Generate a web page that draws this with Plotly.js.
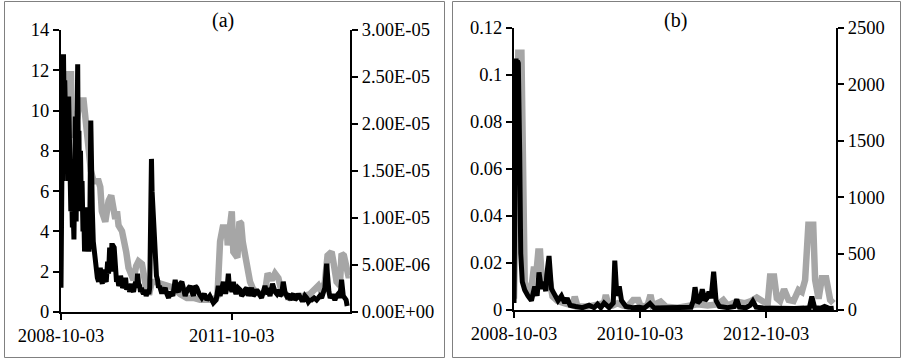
<!DOCTYPE html>
<html>
<head>
<meta charset="utf-8">
<script src="https://cdn.plot.ly/plotly-3.0.1.min.js"></script>
<style>html,body{margin:0;padding:0;background:#fff;}#chart{width:902px;height:359px;}</style>
</head>
<body>
<div id="chart"></div>
<script>
// ---------- Panel (a) ----------
const aBlackDates = ['2008-10-03','2008-10-05','2008-10-08','2008-10-11','2008-10-14','2008-10-19','2008-10-23','2008-10-27','2008-10-31','2008-11-04','2008-11-08','2008-11-12','2008-11-16','2008-11-21','2008-11-26','2008-11-30','2008-12-05','2008-12-10','2008-12-15','2008-12-20','2008-12-25','2008-12-30','2009-01-03','2009-01-08','2009-01-12','2009-01-18','2009-01-22','2009-01-26','2009-01-31','2009-02-05','2009-02-10','2009-02-15','2009-02-21','2009-02-26','2009-03-03','2009-03-09','2009-03-14','2009-03-19','2009-03-25','2009-03-31','2009-04-06','2009-04-12','2009-04-17','2009-04-22','2009-04-28','2009-05-04','2009-05-10','2009-05-17','2009-05-24','2009-06-01','2009-06-06','2009-06-12','2009-06-18','2009-06-25','2009-07-01','2009-07-07','2009-07-13','2009-07-20','2009-07-29','2009-08-04','2009-08-11','2009-08-19','2009-08-25','2009-09-01','2009-09-09','2009-09-18','2009-09-24','2009-10-01','2009-10-08','2009-10-14','2009-10-20','2009-10-26','2009-11-02','2009-11-08','2009-11-14','2009-11-21','2009-11-28','2009-12-04','2009-12-10','2009-12-17','2009-12-23','2009-12-29','2010-01-04','2010-01-11','2010-01-18','2010-01-24','2010-01-31','2010-02-06','2010-02-12','2010-02-19','2010-02-25','2010-03-03','2010-03-09','2010-03-16','2010-03-24','2010-04-02','2010-04-10','2010-04-19','2010-04-25','2010-04-30','2010-05-06','2010-05-10','2010-05-15','2010-05-24','2010-06-01','2010-06-07','2010-06-14','2010-06-20','2010-06-27','2010-07-08','2010-07-22','2010-08-02','2010-08-13','2010-08-24','2010-09-03','2010-09-20','2010-10-05','2010-10-15','2010-10-26','2010-11-06','2010-11-17','2010-11-27','2010-12-08','2010-12-22','2011-01-09','2011-01-20','2011-01-30','2011-02-10','2011-02-21','2011-03-08','2011-03-25','2011-04-10','2011-04-26','2011-05-15','2011-06-07','2011-06-25','2011-07-09','2011-07-20','2011-08-01','2011-08-10','2011-08-19','2011-08-27','2011-09-04','2011-09-11','2011-09-18','2011-09-26','2011-10-04','2011-10-13','2011-10-21','2011-10-30','2011-11-12','2011-11-25','2011-12-05','2011-12-16','2011-12-27','2012-01-07','2012-01-17','2012-01-28','2012-02-07','2012-02-18','2012-02-29','2012-03-11','2012-03-21','2012-04-01','2012-04-11','2012-04-22','2012-05-03','2012-05-14','2012-05-24','2012-06-04','2012-06-20','2012-07-06','2012-07-17','2012-07-28','2012-08-07','2012-08-18','2012-08-28','2012-09-08','2012-09-19','2012-09-30','2012-10-10','2012-10-21','2012-11-01','2012-11-11','2012-11-22','2012-12-03','2012-12-13','2012-12-24','2013-01-04','2013-01-14','2013-01-25','2013-02-05','2013-02-15','2013-02-26','2013-03-14','2013-03-30','2013-04-10','2013-04-20','2013-05-01','2013-05-12','2013-05-22','2013-06-02','2013-06-10','2013-06-17','2013-06-25','2013-07-04','2013-07-14','2013-07-25','2013-08-05','2013-08-16','2013-08-26','2013-09-06','2013-09-17','2013-09-27','2013-10-05','2013-10-12','2013-10-20','2013-10-29'];
const aBlackVals = [1.2,8.5,5.0,9.0,6.5,12.8,10.0,11.5,8.0,11.0,7.0,9.5,6.5,10.7,6.0,7.5,5.0,6.0,4.2,5.0,3.6,6.0,9.7,4.5,7.0,12.3,7.5,9.0,5.0,8.0,5.5,6.5,4.0,5.0,3.0,4.5,5.2,3.2,4.0,3.0,4.5,9.5,5.5,5.0,3.5,3.0,2.5,2.2,1.7,1.5,2.1,2.2,1.6,1.4,2.0,2.0,1.6,1.5,2.5,1.9,3.2,2.0,3.3,3.3,3.2,1.8,1.5,1.7,1.3,1.4,1.8,1.6,1.2,1.3,1.6,1.7,1.1,1.2,1.4,1.0,1.3,1.4,1.1,1.0,1.3,1.5,1.2,1.9,1.4,1.3,1.0,1.2,1.0,0.9,1.1,0.8,1.0,0.9,1.2,5.0,7.6,6.0,5.0,3.0,2.0,1.8,1.6,1.2,1.3,1.0,1.0,1.2,0.9,0.7,1.0,0.8,1.6,1.1,1.0,1.4,1.5,1.0,0.8,1.1,1.3,1.0,0.8,1.3,1.2,0.9,0.7,0.9,0.6,0.8,0.45,0.6,1.3,0.8,1.4,1.5,1.0,1.0,1.3,1.9,1.2,1.2,1.0,1.5,1.1,0.9,1.2,1.1,0.8,0.9,1.1,1.2,0.8,1.0,1.2,0.8,0.9,1.1,1.0,0.8,0.7,1.0,1.3,0.9,1.0,0.8,1.4,1.0,0.9,1.1,0.8,0.9,1.5,1.0,0.8,0.9,0.6,0.8,0.9,0.6,0.7,0.9,0.8,0.6,0.6,0.8,0.7,0.5,0.6,0.6,0.7,0.6,0.7,0.8,0.7,1.0,1.2,2.4,1.1,1.0,0.7,0.8,0.8,0.6,0.8,0.9,0.7,1.6,0.8,0.7,0.6,0.3];

const aGrayDates = ['2008-10-03','2008-10-20','2008-11-10','2008-12-06','2008-12-12','2008-12-27','2009-01-13','2009-01-31','2009-02-25','2009-03-08','2009-03-29','2009-04-13','2009-04-30','2009-06-01','2009-06-12','2009-06-22','2009-07-14','2009-08-04','2009-08-21','2009-09-05','2009-09-16','2009-09-27','2009-10-07','2009-10-29','2009-11-12','2009-11-25','2009-12-10','2009-12-25','2010-01-11','2010-01-28','2010-02-12','2010-03-06','2010-03-21','2010-04-07','2010-04-24','2010-05-08','2010-05-30','2010-07-22','2010-08-13','2010-09-24','2010-11-06','2010-12-19','2011-01-30','2011-03-14','2011-04-26','2011-06-07','2011-07-03','2011-07-20','2011-08-06','2011-09-01','2011-09-07','2011-09-22','2011-10-03','2011-10-13','2011-11-08','2011-11-21','2011-12-02','2011-12-12','2011-12-27','2012-01-11','2012-01-28','2012-02-18','2012-04-01','2012-05-03','2012-05-20','2012-06-15','2012-07-06','2012-07-28','2012-08-11','2012-08-29','2012-10-10','2012-11-22','2013-01-04','2013-02-15','2013-03-19','2013-04-10','2013-05-01','2013-05-22','2013-06-08','2013-07-04','2013-07-15','2013-07-25','2013-08-05','2013-08-26','2013-09-06','2013-09-21','2013-10-08','2013-10-19','2013-10-29'];
const aGrayVals = [1.82e-5,2.14e-5,2.53e-5,2.53e-5,1.93e-5,1.86e-5,2.04e-5,2.25e-5,2.25e-5,2.04e-5,1.71e-5,1.50e-5,1.39e-5,1.39e-5,1.33e-5,1.07e-5,9.6e-6,1.18e-5,1.24e-5,1.07e-5,9.9e-6,1.07e-5,9.2e-6,8.6e-6,7.7e-6,6.4e-6,4.7e-6,3.9e-6,3.4e-6,4.9e-6,5.4e-6,5.1e-6,3.2e-6,2.1e-6,2.1e-6,3.2e-6,3.2e-6,3.0e-6,2.8e-6,2.6e-6,1.9e-6,1.5e-6,1.5e-6,1.3e-6,1.3e-6,1.3e-6,1.7e-6,7.5e-6,9.0e-6,9.0e-6,7.1e-6,1.05e-5,1.07e-5,6.4e-6,5.8e-6,9.6e-6,9.4e-6,7.5e-6,6.0e-6,4.3e-6,3.2e-6,2.4e-6,1.9e-6,2.1e-6,4.1e-6,3.4e-6,4.1e-6,3.6e-6,2.6e-6,2.1e-6,1.5e-6,1.7e-6,1.7e-6,1.9e-6,2.4e-6,2.8e-6,2.1e-6,3.2e-6,6.0e-6,6.4e-6,5.4e-6,4.7e-6,3.2e-6,2.8e-6,6.2e-6,6.0e-6,4.3e-6,3.9e-6,3.9e-6];

const aXTicks = ['2008-10-03','2011-10-03'];
const aLeftTicks = [0,2,4,6,8,10,12,14];
const aRightTicks = [0,5e-6,1e-5,1.5e-5,2e-5,2.5e-5,3e-5];
const aRightLabels = ['0.00E+00','5.00E-06','1.00E-05','1.50E-05','2.00E-05','2.50E-05','3.00E-05'];

// ---------- Panel (b) ----------
const bBlackDates = ['2008-10-03','2008-10-08','2008-10-11','2008-10-15','2008-10-19','2008-10-23','2008-10-28','2008-11-05','2008-11-11','2008-11-20','2008-12-04','2008-12-23','2009-01-12','2009-01-31','2009-02-14','2009-02-25','2009-03-11','2009-03-24','2009-04-05','2009-04-11','2009-04-24','2009-05-08','2009-05-27','2009-06-15','2009-07-05','2009-07-24','2009-08-07','2009-08-24','2009-09-26','2009-11-04','2009-12-12','2010-01-10','2010-01-30','2010-02-18','2010-03-09','2010-04-07','2010-05-01','2010-05-10','2010-05-22','2010-06-05','2010-06-18','2010-07-13','2010-08-21','2010-09-29','2010-10-28','2010-11-30','2010-12-25','2011-02-21','2011-04-20','2011-06-17','2011-07-26','2011-08-08','2011-08-18','2011-09-02','2011-09-16','2011-09-29','2011-10-15','2011-10-26','2011-11-07','2011-11-19','2011-12-04','2011-12-18','2012-01-06','2012-02-23','2012-04-02','2012-04-16','2012-05-01','2012-06-09','2012-07-02','2012-07-18','2012-08-06','2012-09-23','2012-11-20','2013-01-17','2013-03-16','2013-05-13','2013-06-11','2013-06-25','2013-07-11','2013-08-18','2013-09-07','2013-10-06','2013-10-30'];
const bBlackVals = [0.003,0.095,0.04,0.107,0.06,0.106,0.105,0.067,0.024,0.012,0.0085,0.006,0.004,0.010,0.006,0.016,0.009,0.012,0.008,0.015,0.023,0.009,0.006,0.004,0.006,0.003,0.005,0.002,0.0015,0.001,0.002,0.001,0.0025,0.001,0.003,0.001,0.003,0.021,0.006,0.010,0.004,0.0015,0.001,0.0012,0.0008,0.0028,0.0008,0.001,0.0008,0.001,0.0012,0.004,0.0097,0.003,0.004,0.0088,0.004,0.005,0.0078,0.005,0.0163,0.004,0.0015,0.001,0.0015,0.0045,0.0012,0.001,0.002,0.0038,0.0012,0.0008,0.0006,0.0008,0.0006,0.0008,0.001,0.0057,0.001,0.0008,0.0015,0.0006,0.0008];

const bGrayDates = ['2008-10-03','2008-10-18','2008-10-28','2008-11-15','2008-11-22','2008-12-04','2008-12-23','2009-01-12','2009-01-27','2009-02-08','2009-02-21','2009-03-03','2009-03-16','2009-04-05','2009-04-24','2009-05-14','2009-06-12','2009-07-20','2009-09-07','2009-09-20','2009-10-06','2009-12-03','2010-01-30','2010-03-09','2010-03-19','2010-04-02','2010-04-27','2010-05-26','2010-06-24','2010-07-23','2010-08-25','2010-09-23','2010-10-08','2010-11-16','2010-12-03','2010-12-15','2011-01-31','2011-03-02','2011-05-09','2011-07-06','2011-09-02','2011-10-30','2011-12-27','2012-01-29','2012-02-23','2012-04-16','2012-05-31','2012-07-08','2012-08-10','2012-09-17','2012-10-13','2012-10-26','2012-11-18','2012-12-04','2012-12-23','2013-01-15','2013-02-10','2013-03-11','2013-04-09','2013-04-28','2013-05-17','2013-06-05','2013-07-03','2013-07-14','2013-08-03','2013-08-22','2013-09-16','2013-10-09','2013-10-28'];
const bGrayVals = [100,1500,2280,2280,800,250,150,200,385,300,518,518,200,250,300,120,80,60,40,118,30,30,40,60,133,50,40,60,40,30,89,89,30,40,133,40,74,30,20,40,50,40,50,89,40,74,60,80,110,74,70,296,296,104,80,183,89,80,178,160,266,755,755,266,100,281,281,89,59];

const bXTicks = ['2008-10-03','2010-10-03','2012-10-03'];
const bLeftTicks = [0,0.02,0.04,0.06,0.08,0.1,0.12];
const bLeftLabels = ['0','0.02','0.04','0.06','0.08','0.1','0.12'];
const bRightTicks = [0,500,1000,1500,2000,2500];

const panelTitles = ['(a)','(b)'];

// ---------- styling ----------
const GRAY = '#a6a6a6';
const FAMILY = 'Liberation Serif, Times New Roman, serif';
const FONT = {family:FAMILY, size:18.5, color:'#000'};
const W = 902, H = 359;
const axBase = {showline:true, linecolor:'#000', linewidth:2, ticks:'outside', ticklen:6, tickwidth:2, tickcolor:'#000', showgrid:false, zeroline:false, fixedrange:true, tickfont:FONT};

const traces = [
  {x:aGrayDates, y:aGrayVals, xaxis:'x', yaxis:'y', type:'scatter', mode:'lines', line:{color:GRAY, width:6.5}},
  {x:aBlackDates, y:aBlackVals, xaxis:'x', yaxis:'y2', type:'scatter', mode:'lines', line:{color:'#000', width:5}},
  {x:bGrayDates, y:bGrayVals, xaxis:'x2', yaxis:'y3', type:'scatter', mode:'lines', line:{color:GRAY, width:6.5}},
  {x:bBlackDates, y:bBlackVals, xaxis:'x2', yaxis:'y4', type:'scatter', mode:'lines', line:{color:'#000', width:5}}
];

const layout = {
  width:W, height:H, margin:{l:0,r:0,t:0,b:0}, autosize:false,
  paper_bgcolor:'#fff', plot_bgcolor:'rgba(0,0,0,0)', showlegend:false, font:FONT,
  xaxis: Object.assign({}, axBase, {domain:[61/W,350/W], anchor:'y', type:'date', range:['2008-10-03','2013-10-30'], tickmode:'array', tickvals:aXTicks, ticktext:aXTicks}),
  yaxis: Object.assign({}, axBase, {domain:[(H-312)/H,(H-30)/H], anchor:'x', side:'right', range:[0,3e-5], tickmode:'array', tickvals:aRightTicks, ticktext:aRightLabels}),
  yaxis2: Object.assign({}, axBase, {overlaying:'y', anchor:'x', side:'left', range:[0,14], tickmode:'array', tickvals:aLeftTicks, ticktext:aLeftTicks.map(String)}),
  xaxis2: Object.assign({}, axBase, {domain:[514/W,836/W], anchor:'y3', type:'date', range:['2008-10-03','2013-11-12'], tickmode:'array', tickvals:bXTicks, ticktext:bXTicks}),
  yaxis3: Object.assign({}, axBase, {domain:[(H-310)/H,(H-28)/H], anchor:'x2', side:'right', range:[0,2500], tickmode:'array', tickvals:bRightTicks, ticktext:bRightTicks.map(String)}),
  yaxis4: Object.assign({}, axBase, {overlaying:'y3', anchor:'x2', side:'left', range:[0,0.12], tickmode:'array', tickvals:bLeftTicks, ticktext:bLeftLabels}),
  shapes: [
    {type:'rect', xref:'paper', yref:'paper', x0:4.5/W, x1:444.5/W, y0:1-357.5/H, y1:1-1.5/H, line:{color:'#808080', width:1}},
    {type:'rect', xref:'paper', yref:'paper', x0:452.5/W, x1:900.5/W, y0:1-357.5/H, y1:1-1.5/H, line:{color:'#808080', width:1}}
  ],
  annotations: [
    {text:panelTitles[0], xref:'paper', yref:'paper', x:223/W, y:1-20/H, xanchor:'center', yanchor:'middle', showarrow:false, font:{family:FAMILY, size:20, color:'#000'}},
    {text:panelTitles[1], xref:'paper', yref:'paper', x:675/W, y:1-20/H, xanchor:'center', yanchor:'middle', showarrow:false, font:{family:FAMILY, size:20, color:'#000'}}
  ]
};

Plotly.newPlot('chart', traces, layout, {staticPlot:true, displayModeBar:false});
</script>
</body>
</html>
